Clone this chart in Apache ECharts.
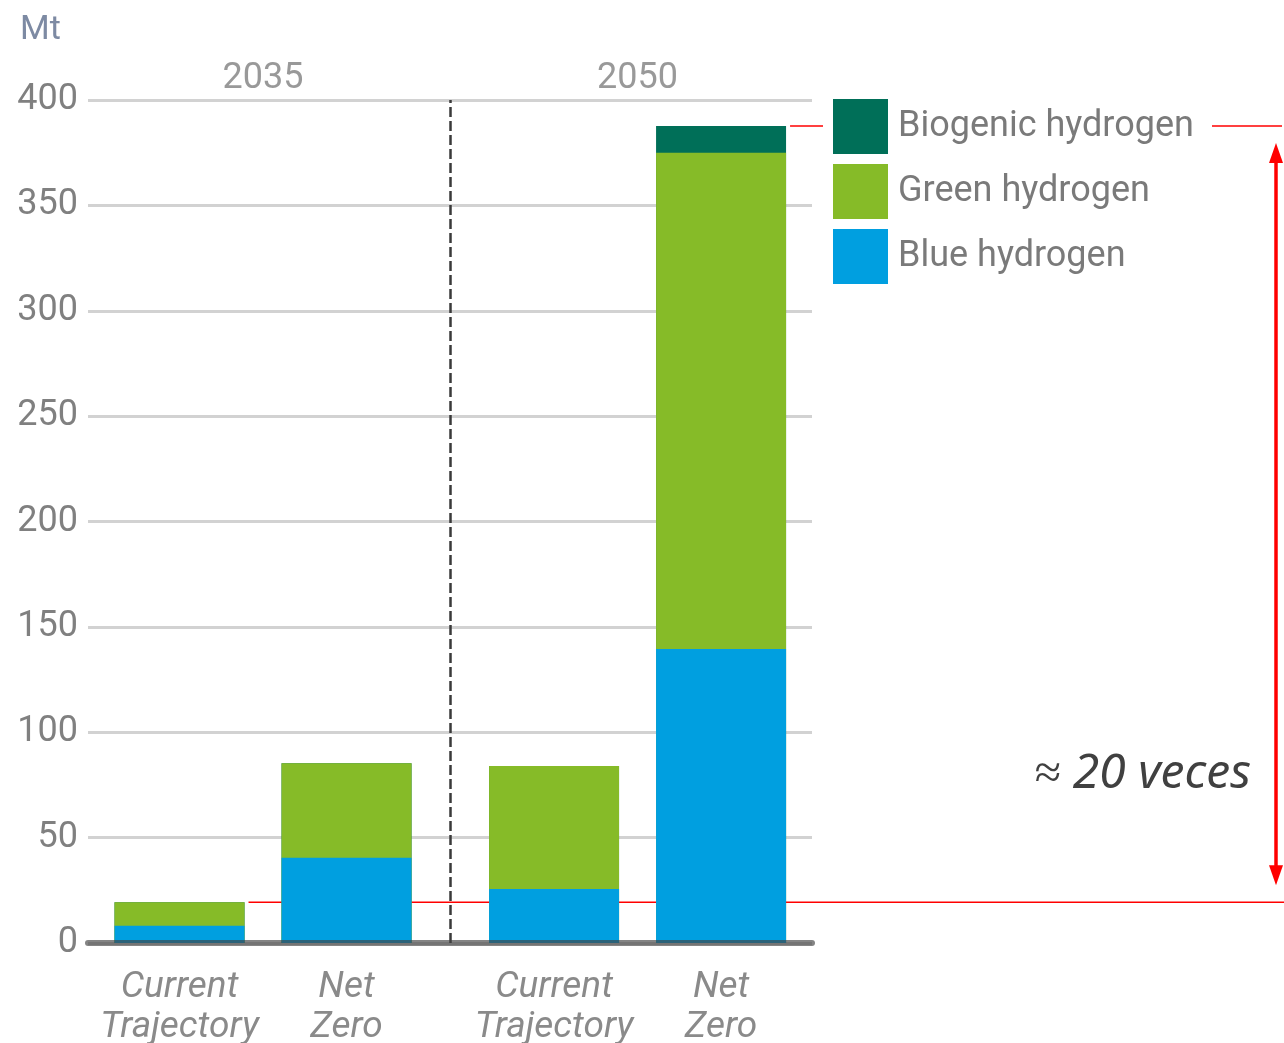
<!DOCTYPE html>
<html>
<head>
<meta charset="utf-8">
<script src="https://cdn.jsdelivr.net/npm/echarts@6/dist/echarts.min.js"></script>
<style>html,body{margin:0;padding:0;background:#fff}#c{width:1284px;height:1043px}</style>
</head>
<body>
<div id="c"></div>
<script>
// ---- data ----
const categories = ['Current\nTrajectory', 'Net\nZero', 'Current\nTrajectory', 'Net\nZero'];
const years = ['2035', '2050'];
const blueHydrogen = [8.2, 40.5, 25.6, 139.5];
const greenHydrogen = [11.1, 44.8, 58.4, 235.5];
const biogenicHydrogen = [0, 0, 0, 12.7];
const seriesNames = ['Biogenic hydrogen', 'Green hydrogen', 'Blue hydrogen'];
const yMax = 400, yInterval = 50;
const unit = 'Mt';
const annotation = '≈ 20 veces';

// ---- layout (axis units: 1 = bar slot) ----
const firstOffset = 0.548, groupExtra = 0.2425, axisMax = 4.335;
const xPos = categories.map((c, i) => firstOffset + i + (i >= 2 ? groupExtra : 0));
const groupCenters = [ (xPos[0] + xPos[1]) / 2, (xPos[2] + xPos[3]) / 2 ];
const sepX = (xPos[1] + xPos[2]) / 2;
const BW = 130;
const FONT = 'Roboto';
const colors = { blue: '#009fe0', green: '#86bb28', bio: '#006f58' };

// stacked tops (each layer drawn from the axis, upper layers behind lower ones)
const topBlue = blueHydrogen.slice();
const topGreen = blueHydrogen.map((b, i) => b + greenHydrogen[i]);
const topBio = topGreen.map((g, i) => g + biogenicHydrogen[i]);

const chart = echarts.init(document.getElementById('c'));
const mk = arr => arr.map((v, i) => [xPos[i], v]);

chart.setOption({
  animation: false,
  title: { text: unit, left: 15, top: 8, textStyle: { fontFamily: FONT, fontSize: 34, fontWeight: 'normal', color: '#7d8aa3' } },
  legend: {
    data: seriesNames, orient: 'vertical', left: 833, top: 99, padding: 0,
    itemWidth: 55, itemHeight: 55, itemGap: 10, icon: 'rect', selectedMode: false,
    textStyle: { fontFamily: FONT, fontSize: 36, color: '#7a7a7a', padding: [4, 0, 0, 5] }
  },
  grid: { left: 88, top: 100, width: 724, bottom: 100, containLabel: false },
  xAxis: {
    type: 'value', min: 0, max: axisMax, z: 5,
    axisLine: { show: true, onZero: true, lineStyle: { color: 'rgba(66,66,66,0.65)', width: 6 } },
    axisTick: { show: false }, axisLabel: { show: false }, splitLine: { show: false }
  },
  yAxis: {
    type: 'value', min: 0, max: yMax, interval: yInterval,
    axisLine: { show: false }, axisTick: { show: false },
    axisLabel: { fontFamily: FONT, fontSize: 36, color: '#808080', margin: 10, padding: [4, 0, 0, 0] },
    splitLine: { lineStyle: { color: '#d2d2d2', width: 3 } }
  },
  series: [
    { name: 'Biogenic hydrogen', type: 'bar', barGap: '-100%', barWidth: BW, data: mk(topBio), itemStyle: { color: colors.bio } },
    { name: 'Green hydrogen', type: 'bar', barGap: '-100%', barWidth: BW, data: mk(topGreen), itemStyle: { color: colors.green } },
    {
      name: 'Blue hydrogen', type: 'bar', barGap: '-100%', barWidth: BW, data: mk(topBlue),
      itemStyle: { color: colors.blue },
      label: {
        show: true, position: 'bottom', distance: 25,
        formatter: p => categories[p.dataIndex],
        fontFamily: FONT, fontStyle: 'italic', fontSize: 37, lineHeight: 40, color: '#8a8a8a'
      },
      markLine: {
        silent: true, symbol: 'none', label: { show: false },
        lineStyle: { type: [10, 4], color: '#3a3a3a', width: 2.5 },
        data: [{ xAxis: sepX }]
      }
    },
    {
      type: 'scatter', symbolSize: 1, itemStyle: { color: 'transparent' }, silent: true,
      data: groupCenters.map((x, i) => ({ value: [x, yMax], name: years[i] })),
      label: { show: true, position: 'top', distance: 3, formatter: p => p.name,
        fontFamily: FONT, fontSize: 36, color: '#808080' }
    }
  ]
});

// ---- annotations positioned through the chart's scales ----
const px = (x, y) => chart.convertToPixel({ gridIndex: 0 }, [x, y]);
const yLow = px(0, topBio[0])[1];
const yHigh = px(0, topBio[3])[1];
const xLowStart = px(xPos[0], 0)[0] + BW / 2 + 4;
const xHighStart = px(xPos[3], 0)[0] + BW / 2 + 4;
const arrowX = 1276, head = 17;
const red = '#ff0000';
chart.setOption({
  graphic: [
    { type: 'line', shape: { x1: xLowStart, y1: yLow, x2: 1284, y2: yLow }, style: { stroke: red, lineWidth: 1.5 } },
    { type: 'line', shape: { x1: xHighStart, y1: yHigh, x2: 823, y2: yHigh }, style: { stroke: red, lineWidth: 1.5 } },
    { type: 'line', shape: { x1: 1212, y1: yHigh, x2: 1282, y2: yHigh }, style: { stroke: red, lineWidth: 1.5 } },
    { type: 'line', shape: { x1: arrowX, y1: yHigh + head + 15, x2: arrowX, y2: yLow - head - 15 }, style: { stroke: red, lineWidth: 3.5 } },
    { type: 'polygon', shape: { points: [[arrowX, yHigh + head], [arrowX - 7, yHigh + head + 20], [arrowX + 7, yHigh + head + 20]] }, style: { fill: red } },
    { type: 'polygon', shape: { points: [[arrowX, yLow - head], [arrowX - 7, yLow - head - 20], [arrowX + 7, yLow - head - 20]] }, style: { fill: red } },
    { type: 'text', left: 1034, top: 750, style: { text: annotation, font: 'italic 48px "Noto Sans"', fill: '#404040' } }
  ]
});
</script>
</body>
</html>
